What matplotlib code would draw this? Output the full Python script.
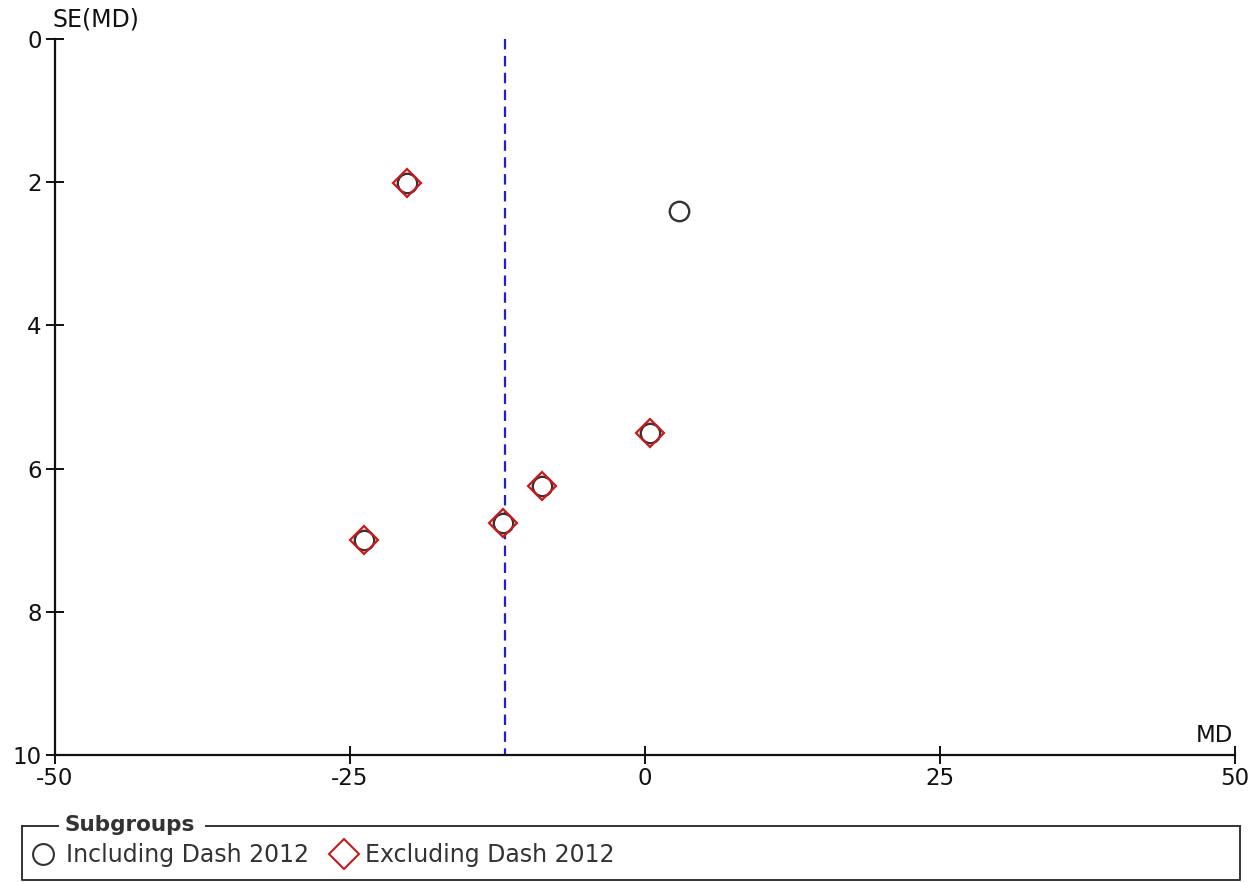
import matplotlib
matplotlib.use("Agg")
import matplotlib.pyplot as plt
from matplotlib.lines import Line2D

plt.rcParams['font.family'] = ['DejaVu Sans']

# Data
incl_md = [-20.2, 2.9, 0.4, -8.7, -12.0, -23.8]
incl_se = [2.01, 2.40, 5.50, 6.24, 6.76, 7.00]
excl_md = [-20.2, 0.4, -8.7, -12.0, -23.8]
excl_se = [2.01, 5.50, 6.24, 6.76, 7.00]
pooled_md = -11.85
xticks = [-50, -25, 0, 25, 50]
yticks = [0, 2, 4, 6, 8, 10]

fig = plt.figure(figsize=(12.58, 8.82), dpi=100)
ax = fig.add_axes([55/1258, 1-755/882, (1235-55)/1258, (755-39)/882])

ax.plot([pooled_md, pooled_md], [0, 10], color='#2020cc', linestyle=(0, (4.7, 2.9)), linewidth=1.6, zorder=1)
ax.plot(incl_md, incl_se, linestyle='none', marker='o', markersize=14,
        markerfacecolor='white', markeredgecolor='#333333', markeredgewidth=1.7, zorder=2)
ax.plot(excl_md, excl_se, linestyle='none', marker='D', markersize=14.5,
        markerfacecolor='none', markeredgecolor='#cc1a1a', markeredgewidth=1.6, zorder=3)

ax.set_xlim(-50, 50)
ax.set_ylim(10, 0)
ax.set_xticks(xticks)
ax.set_xticklabels([str(v) for v in xticks])
ax.set_yticks(yticks)
ax.set_yticklabels([str(v) for v in yticks])
for s in ['top', 'right']:
    ax.spines[s].set_visible(False)
for s in ['left', 'bottom']:
    ax.spines[s].set_linewidth(1.6)
    ax.spines[s].set_color('#111111')
ax.tick_params(axis='both', direction='inout', length=13, width=1.4, labelsize=16.5, colors='#111111')
ax.tick_params(axis='y', pad=3)
ax.tick_params(axis='x', pad=2)

ax.text(-3/1180, 1.0 + 7/716, 'SE(MD)', transform=ax.transAxes, fontsize=17, ha='left', va='bottom', color='#111111')
ax.text(0.9985, 8/716, 'MD', transform=ax.transAxes, fontsize=16.5, ha='right', va='bottom', color='#111111')

# Legend box
fx = lambda px: px/1258
fy = lambda py: 1 - py/882
fig.add_artist(Line2D([fx(22), fx(22), fx(1240), fx(1240)], [fy(826), fy(880), fy(880), fy(826)],
                      color='#333333', linewidth=1.4, transform=fig.transFigure))
fig.add_artist(Line2D([fx(22), fx(58)], [fy(826), fy(826)], color='#333333', linewidth=1.4, transform=fig.transFigure))
fig.add_artist(Line2D([fx(206), fx(1240)], [fy(826), fy(826)], color='#333333', linewidth=1.4, transform=fig.transFigure))
fig.text(fx(64), fy(825), 'Subgroups', fontsize=15.5, fontweight='bold', color='#333333', ha='left', va='center')
fig.add_artist(Line2D([fx(43)], [fy(854)], marker='o', markersize=15, markerfacecolor='white',
                      markeredgecolor='#333333', markeredgewidth=1.5, transform=fig.transFigure))
fig.text(fx(66), fy(855), 'Including Dash 2012', fontsize=17, color='#333333', ha='left', va='center')
fig.add_artist(Line2D([fx(344)], [fy(854)], marker='D', markersize=15, markerfacecolor='none',
                      markeredgecolor='#cc1a1a', markeredgewidth=1.5, transform=fig.transFigure))
fig.text(fx(365), fy(855), 'Excluding Dash 2012', fontsize=17, color='#333333', ha='left', va='center')

fig.savefig('out.png', dpi=100)
